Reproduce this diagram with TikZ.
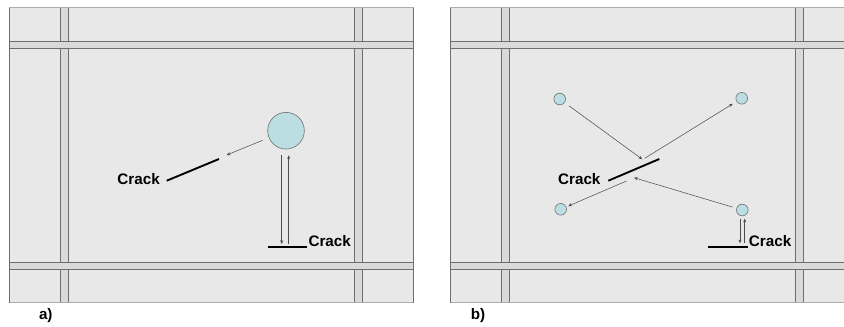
\documentclass[tikz,border=0pt]{standalone}
\usepackage{fontspec}
\setmainfont{Liberation Sans}
\usetikzlibrary{arrows.meta,calc}
\definecolor{slabgray}{RGB}{232,232,232}
\definecolor{jointgray}{RGB}{218,218,218}
\definecolor{edgegray}{RGB}{110,110,110}
\definecolor{rimgray}{RGB}{172,172,172}
\definecolor{porefill}{RGB}{186,222,226}
\tikzset{
  >={Stealth[length=3.2pt,width=2.6pt]},
  pore/.style={circle,draw=edgegray,fill=porefill,line width=0.5pt,inner sep=0pt,minimum size=#1},
  pore/.default=3.5mm,
  crack/.style={line width=1.6pt,black},
  wave/.style={->,line width=0.45pt,draw=black!70},
  tag/.style={font=\fontsize{13}{15}\selectfont\bfseries,inner sep=0pt},
  % one slab with its joints
  pics/slab/.style={code={
    \fill[slabgray] (0,0) rectangle (404.4,295);
    \foreach \x in {51,345}{
      \fill[jointgray] (\x,0) rectangle (\x+8.4,295);
      \draw[edgegray,line width=0.7pt] (\x,0) -- (\x,295) (\x+8.4,0) -- (\x+8.4,295);
    }
    \foreach \y in {33.6,254.3}{
      \fill[jointgray] (0,\y) rectangle (404.4,\y+7.2);
      \draw[edgegray,line width=0.7pt] (0,\y) -- (404.4,\y) (0,\y+7.2) -- (404.4,\y+7.2);
    }
    \draw[rimgray,line width=1pt] (0,0) -- (404.4,0) (0,295) -- (404.4,295);
    \draw[edgegray,line width=0.7pt] (0,0) -- (0,295) (404.4,0) -- (404.4,295);
  }},
}
\begin{document}
\begin{tikzpicture}[x=0.03cm,y=-0.03cm]
  \useasboundingbox (0,0) rectangle (844,326);
  \fill[white] (0,0) rectangle (844,326);

  % a) one large inclusion
  \pic at (9.3,7.7) {slab};
  \node[pore=1.1cm] (ball) at (286,130.7) {};
  \coordinate (crA1) at (166.7,180.7);
  \coordinate (crA2) at (219,159);
  \coordinate (crB1) at (267.7,247.3);
  \coordinate (crB2) at (307.3,247.3);
  \draw[crack] (crA1) -- (crA2);
  \draw[crack] (crB1) -- (crB2);
  \node[tag,anchor=east] (tagA) at (160,178.7) {Crack};
  \node[tag,anchor=west] (tagB) at (308.3,241.3) {Crack};
  \coordinate (hitA) at (226.7,155);
  \coordinate (downA) at (281.7,244);
  \coordinate (upA) at (288.7,244);
  \draw[wave,shorten <=2mm] (ball) -- (hitA);
  \draw[wave,shorten <=1.8mm] (ball.south -| downA) -- (downA);
  \draw[wave,shorten >=1.8mm] (upA) -- (ball.south -| upA);
  \node[tag] (capA) at (45.8,315.8) {a)};

  % b) four small inclusions
  \pic at (450.3,7.7) {slab};
  \node[pore] (nw) at (559.7,99) {};
  \node[pore] (ne) at (741.7,98.3) {};
  \node[pore] (sw) at (560.7,209.3) {};
  \node[pore] (se) at (742.3,210) {};
  \coordinate (crC1) at (608.3,180.7);
  \coordinate (crC2) at (659.3,159);
  \coordinate (crD1) at (708,247.3);
  \coordinate (crD2) at (748,247.3);
  \draw[crack] (crC1) -- (crC2);
  \draw[crack] (crD1) -- (crD2);
  \node[tag,anchor=east] (tagC) at (600.7,178.7) {Crack};
  \node[tag,anchor=west] (tagD) at (748.7,241.3) {Crack};
  \coordinate (hit1) at (642.3,159.3);
  \coordinate (leave1) at (644.7,158.3);
  \coordinate (hit2) at (634,177.7);
  \coordinate (leave2) at (626.5,181);
  \coordinate (downB) at (740,243.3);
  \coordinate (upB) at (744.7,243.3);
  \draw[wave,shorten <=1.6mm] (nw) -- (hit1);
  \draw[wave,shorten >=1.3mm] (leave1) -- (ne);
  \draw[wave,shorten <=1.2mm] (se) -- (hit2);
  \draw[wave,shorten >=0.6mm] (leave2) -- (sw);
  \draw[wave,shorten <=0.75mm] (se.south -| downB) -- (downB);
  \draw[wave,shorten >=0.75mm] (upB) -- (se.south -| upB);
  \node[tag] (capB) at (478,315.5) {b)};
\end{tikzpicture}
\end{document}
